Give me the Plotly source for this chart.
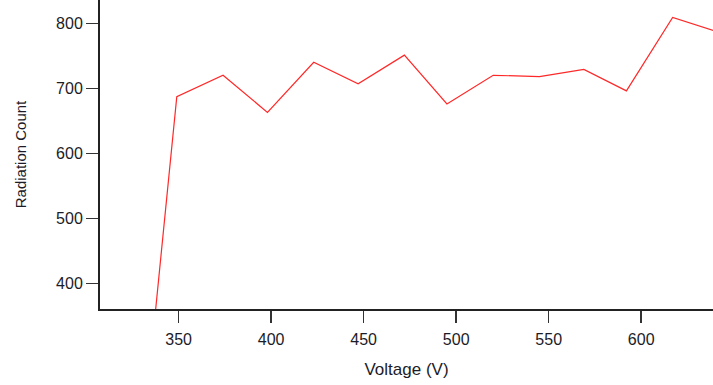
import plotly.graph_objects as go

voltage = [325, 349, 374, 398, 423, 447, 472, 495, 520, 545, 569, 592, 617, 641]
counts = [0, 687, 720, 663, 740, 707, 751, 676, 720, 718, 729, 696, 809, 787]

x_ticks = [350, 400, 450, 500, 550, 600]
y_ticks = [400, 500, 600, 700, 800]

fig = go.Figure()
fig.add_trace(go.Scatter(x=voltage, y=counts, mode="lines",
                         line=dict(color="rgb(255,40,40)", width=1.2),
                         showlegend=False, hoverinfo="skip"))

fam = "Liberation Sans, Arial, sans-serif"
col = "#1c1c28"
tickfont = dict(family=fam, size=16, color=col)

fig.update_layout(
    width=713, height=385,
    margin=dict(l=100, r=0, t=0, b=76, autoexpand=False),
    paper_bgcolor="white", plot_bgcolor="white",
    font=dict(family=fam, size=16, color=col),
    xaxis=dict(range=[307.5, 638.8], tickvals=x_ticks, ticks="outside", ticklen=12,
               tickwidth=1.5, tickcolor="#333", showline=True, linecolor="#222",
               linewidth=2, showgrid=False, zeroline=False, mirror=False,
               tickfont=tickfont, automargin=False, ticklabelstandoff=3,
               title=dict(text="Voltage (V)", standoff=16,
                          font=dict(family=fam, size=17, color=col))),
    yaxis=dict(range=[360.5, 835.8], tickvals=y_ticks, ticks="outside", ticklen=12,
               tickwidth=1.5, tickcolor="#333", showline=True, linecolor="#222",
               linewidth=2, showgrid=False, zeroline=False, mirror=False,
               tickfont=tickfont, automargin=False,
               title=dict(text="Radiation Count", standoff=26,
                          font=dict(family=fam, size=15, color=col))),
)

fig.write_html("out.html", config={"displayModeBar": False, "staticPlot": True})
with open("out.html", "r", encoding="utf-8") as f:
    html = f.read()
html = html.replace("<body>", '<body style="margin:0;padding:0;overflow:hidden">', 1)
with open("out.html", "w", encoding="utf-8") as f:
    f.write(html)
